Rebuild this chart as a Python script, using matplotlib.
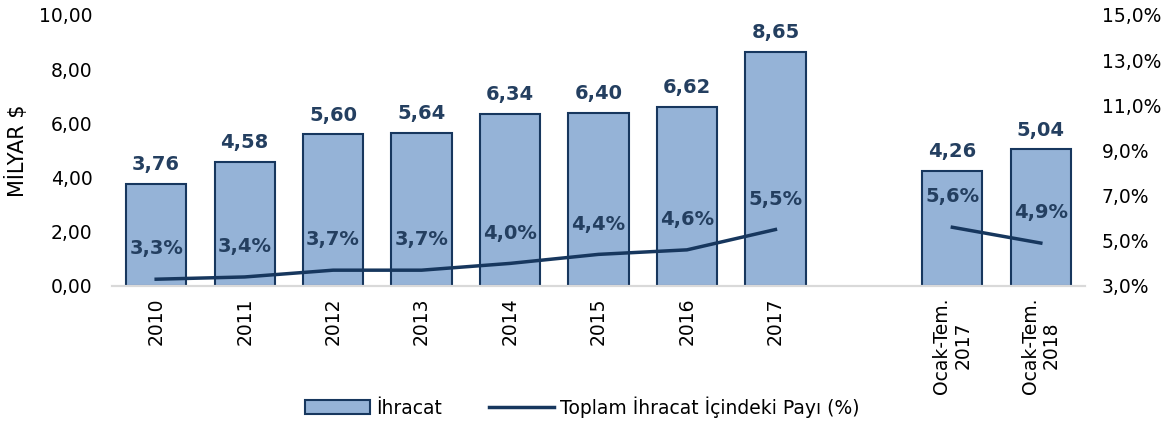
import numpy as np
import matplotlib.pyplot as plt
from matplotlib.patches import Patch
from matplotlib.lines import Line2D

categories = ["2010", "2011", "2012", "2013", "2014", "2015", "2016", "2017",
              "Ocak-Tem.\n2017", "Ocak-Tem.\n2018"]
exports = [3.76, 4.58, 5.60, 5.64, 6.34, 6.40, 6.62, 8.65, 4.26, 5.04]
share = [3.3, 3.4, 3.7, 3.7, 4.0, 4.4, 4.6, 5.5, 5.6, 4.9]
positions = [0, 1, 2, 3, 4, 5, 6, 7, 9, 10]

bar_fill = "#95b3d7"
navy = "#17375e"
label_col = "#243f60"

plt.rcParams['font.family'] = ['DejaVu Sans']

fig = plt.figure(figsize=(11.71, 4.21), dpi=100)
ax = fig.add_axes([0.0956, 0.3207, 0.831, 0.6437])
ax2 = ax.twinx()

ax.bar(positions, exports, width=0.68, color=bar_fill, edgecolor=navy, linewidth=1.5, zorder=2)
for x, v in zip(positions, exports):
    ax.annotate(f"{v:.2f}".replace(".", ","), (x, v), xytext=(0, 7), textcoords="offset points",
                ha="center", va="bottom", fontsize=14, fontweight="bold", color=label_col)

ax.set_xlim(-0.5, 10.5)
ax.set_ylim(0, 10)
ax.set_yticks(np.arange(0, 10.1, 2))
ax.set_yticklabels([f"{v:.2f}".replace(".", ",") for v in np.arange(0, 10.1, 2)], fontsize=13.5)
ax.set_xticks(positions)
ax.set_xticklabels(categories, rotation=90, fontsize=13.5, linespacing=1.15)
ax.set_ylabel("MİLYAR $", fontsize=15, labelpad=8)
ax.tick_params(length=0, pad=8)
ax.tick_params(axis="y", pad=14)

ax2.plot(positions[:8], share[:8], color=navy, linewidth=2.5, zorder=3)
ax2.plot(positions[8:], share[8:], color=navy, linewidth=2.5, zorder=3)
for x, v in zip(positions, share):
    ax2.annotate(f"{v:.1f}%".replace(".", ","), (x, v), xytext=(0, 15), textcoords="offset points",
                 ha="center", va="bottom", fontsize=14, fontweight="bold", color=label_col)
ax2.set_ylim(3, 15)
ax2.set_yticks(np.arange(3, 15.1, 2))
ax2.set_yticklabels([f"{v:.1f}%".replace(".", ",") for v in np.arange(3, 15.1, 2)], fontsize=13.5)
ax2.tick_params(length=0, pad=12)

for a in (ax, ax2):
    for s in ("top", "left", "right"):
        a.spines[s].set_visible(False)
    a.spines["bottom"].set_color("#d9d9d9")
    a.spines["bottom"].set_linewidth(1.5)

handles = [Patch(facecolor=bar_fill, edgecolor=navy, linewidth=1.5),
           Line2D([0], [0], color=navy, linewidth=2.5)]
fig.legend(handles, ["İhracat", "Toplam İhracat İçindeki Payı (%)"], loc="lower center",
           bbox_to_anchor=(0.497, -0.032), ncol=2, frameon=False, fontsize=13.5,
           handlelength=3.5, handletextpad=0.3, columnspacing=2.5)

fig.savefig("out.png", dpi=100)
